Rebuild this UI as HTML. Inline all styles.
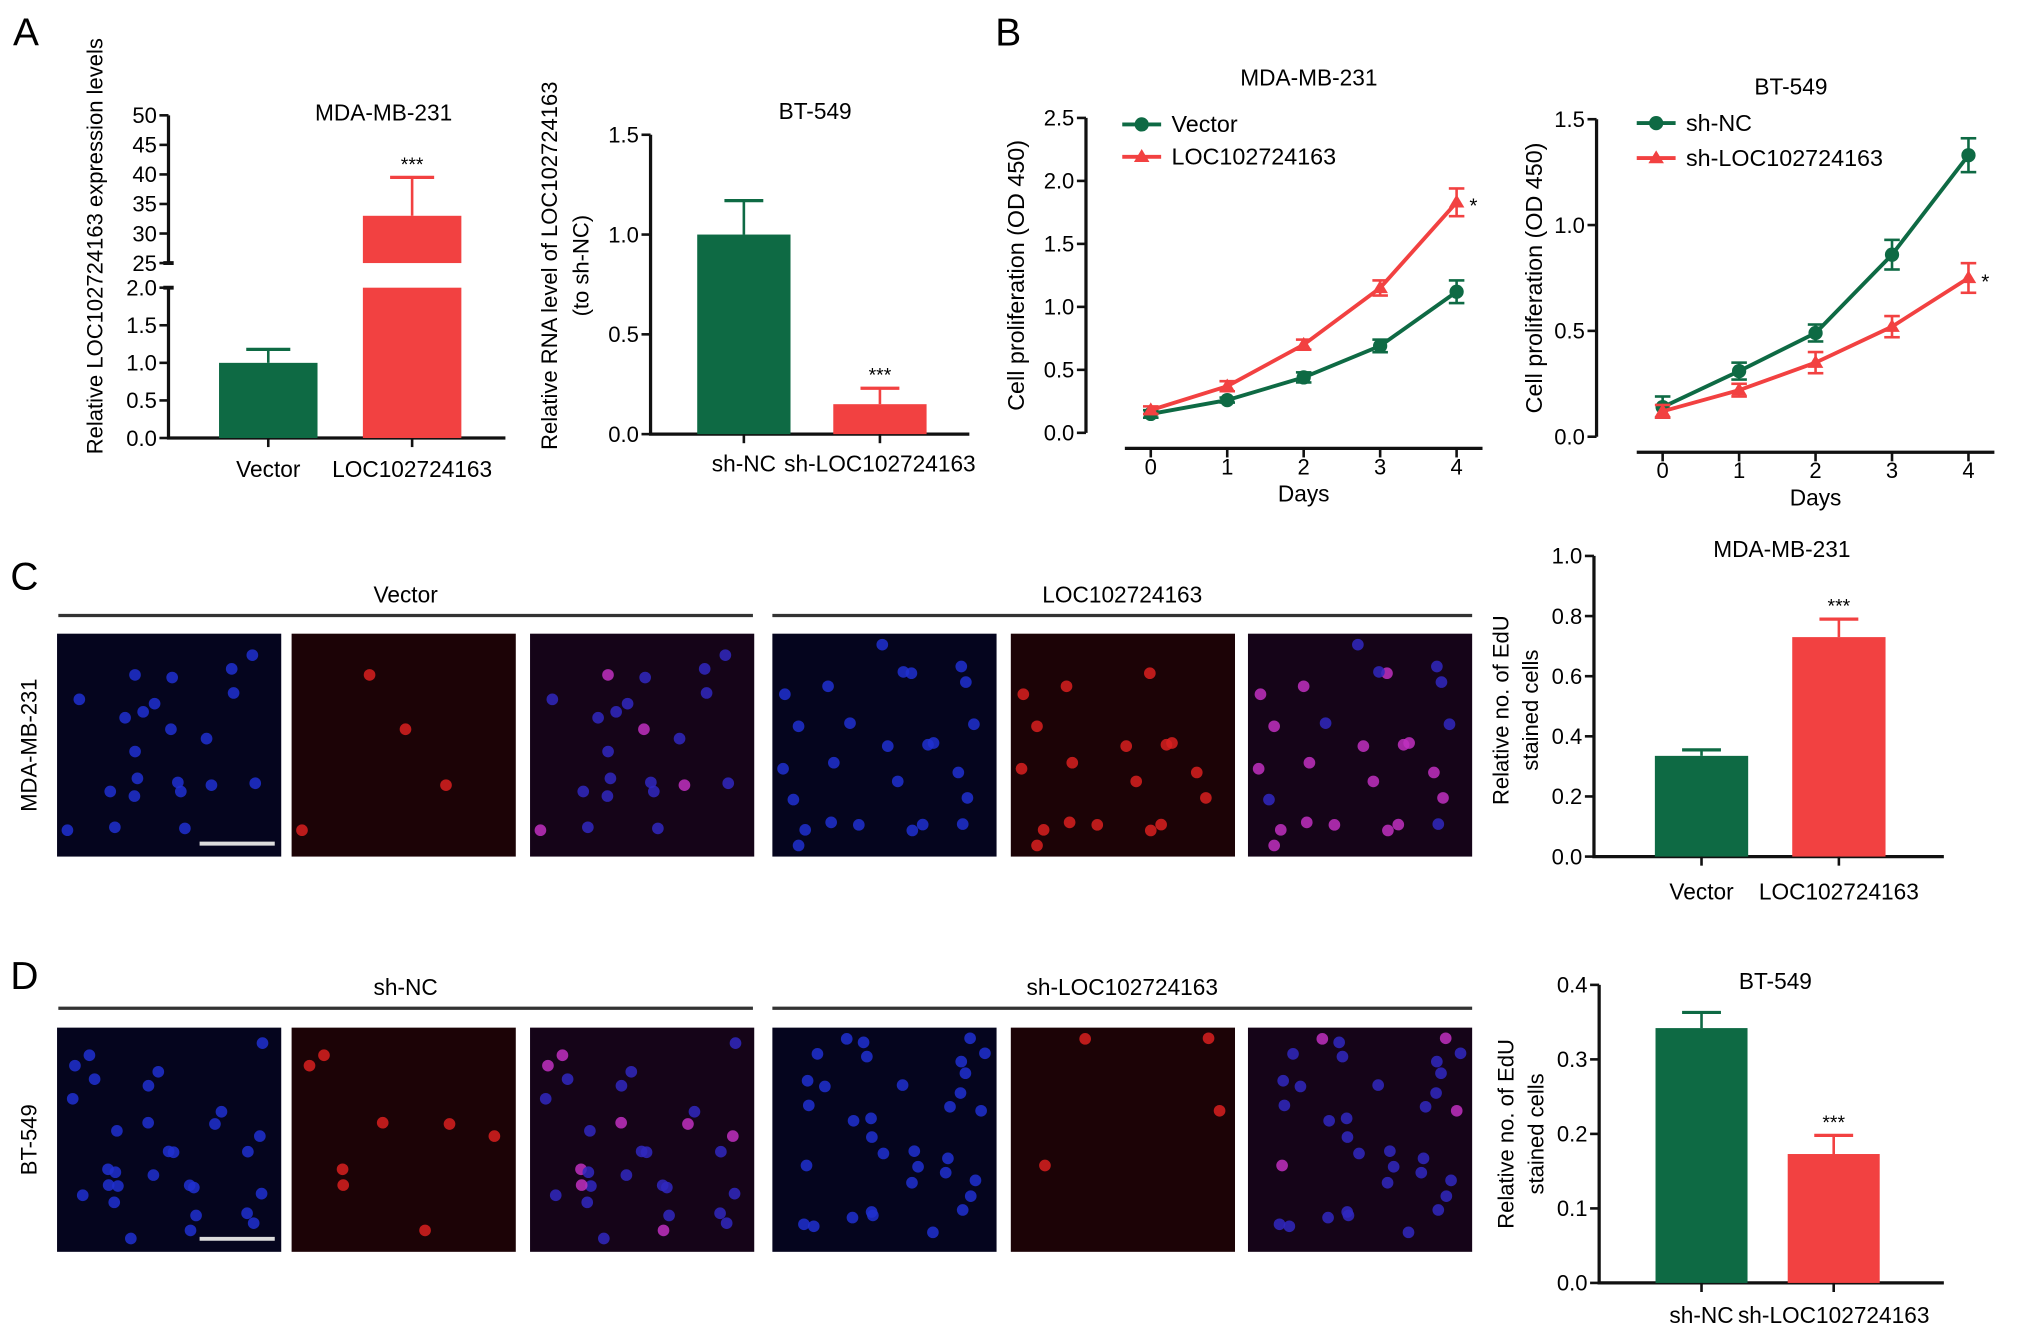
<!DOCTYPE html>
<html><head><meta charset="utf-8">
<style>
html,body{margin:0;padding:0;background:#fff;}
svg{display:block;font-family:"Liberation Sans",Arial,sans-serif;}
</style></head>
<body>
<svg id="fig" width="2032" height="1338" viewBox="0 0 1568 1032.5" xmlns="http://www.w3.org/2000/svg">
<text x="10" y="35" font-size="30">A</text>
<text x="768" y="35" font-size="30">B</text>
<text x="8" y="455" font-size="30">C</text>
<text x="8" y="763" font-size="30">D</text>
</svg>
<script>
// ---- data ----
const a1Cats = ["Vector","LOC102724163"];
const a1Vals = [1.0, 33];
const a1Errs = [0.18, 6.5];
const a1LowTicks = ["0.0","0.5","1.0","1.5","2.0"];
const a1HighTicks = ["25","30","35","40","45","50"];
const a2Cats = ["sh-NC","sh-LOC102724163"];
const a2Vals = [1.0, 0.15];
const a2Errs = [0.17, 0.08];
const a2Ticks = [0,0.5,1.0,1.5];
const days = [0,1,2,3,4];
const b1Vector = [0.15,0.26,0.44,0.69,1.12];
const b1VectorErr = [0.03,0.02,0.04,0.05,0.09];
const b1Loc = [0.18,0.37,0.70,1.15,1.83];
const b1LocErr = [0.03,0.04,0.04,0.06,0.11];
const b1Ticks = [0,0.5,1.0,1.5,2.0,2.5];
const b2NC = [0.14,0.31,0.49,0.86,1.33];
const b2NCErr = [0.05,0.04,0.04,0.07,0.08];
const b2Loc = [0.12,0.22,0.35,0.52,0.75];
const b2LocErr = [0.03,0.03,0.05,0.05,0.07];
const b2Ticks = [0,0.5,1.0,1.5];
const cCats = ["Vector","LOC102724163"];
const cVals = [0.335,0.73];
const cErrs = [0.02,0.06];
const cTicks = [0,0.2,0.4,0.6,0.8,1.0];
const dCats = ["sh-NC","sh-LOC102724163"];
const dVals = [0.342,0.173];
const dErrs = [0.021,0.025];
const dTicks = [0,0.1,0.2,0.3,0.4];

const G="#0e6a44", R="#f24141";
const svg=document.getElementById('fig');
const NS="http://www.w3.org/2000/svg";
function el(tag,attrs,parent){const e=document.createElementNS(NS,tag);for(const k in attrs)e.setAttribute(k,attrs[k]);(parent||svg).appendChild(e);return e;}
function txt(x,y,s,size,anchor,rot,parent){const t=el('text',{x:x,y:y,'font-size':size,'text-anchor':anchor||'middle'},parent);if(rot)t.setAttribute('transform','rotate(-90 '+x+' '+y+')');t.textContent=s;return t;}
function grp(name){const g=el('g',{});return g;}
function fmt(v,d){return v.toFixed(d);}

function barChart(o){
  const g=grp(o.name);
  const y=v=>o.y0-(v-o.vmin)/(o.vmax-o.vmin)*(o.y0-o.y1);
  const ax=el('path',{d:`M${o.ax} ${o.y1} V${o.y0} H${o.xEnd}`,stroke:'#111','stroke-width':2.5,fill:'none'},g);
  
  
  o.ticks.forEach(v=>{
    el('line',{x1:o.ax-7,x2:o.ax,y1:y(v),y2:y(v),stroke:'#111','stroke-width':2},g);
    const t=txt(o.ax-9,y(v)+6,fmt(v,1),17,'end',false,g);
    
    
  });
  o.cats.forEach((c,i)=>{
    const cx=o.xs[i], w=o.bw, col=i?R:G;
    const v=o.vals[i];
    const bar=el('rect',{x:cx-w/2,y:y(v),width:w,height:o.y0-y(v),fill:col},g);
    
    
    const e=y(v+o.errs[i]);
    el('line',{x1:cx,x2:cx,y1:y(v),y2:e,stroke:col,'stroke-width':2},g);
    el('line',{x1:cx-15,x2:cx+15,y1:e,y2:e,stroke:col,'stroke-width':2.5},g);
    el('line',{x1:cx,x2:cx,y1:o.y0,y2:o.y0+7,stroke:'#111','stroke-width':2},g);
    const l=txt(cx,o.y0+(o.labOff||27),c,17.5,'middle',false,g);
    
    
    if(o.star===i){const s=txt(cx,e-5,'***',15,'middle',false,g);}
  });
  const tt=txt(o.titleX,o.titleY,o.title,17.5,'middle',false,g);
  
  
  o.ylab.forEach((s,k)=>{const t=txt(o.ylabX[k],o.ylabY,s,17,'middle',true,g);});
  return g;
}

// Panel A1 (broken axis)
(function(){
  const g=grp('chart-a-mda-mb-231');
  const ax=130,y0=338,y1=222,h0=203,h1=89;
  const yl=v=>y0-v/2*(y0-y1);
  const yh=v=>h0-(v-25)/25*(h0-h1);
  el('path',{d:`M${ax} ${y1} V${y0} H390`,stroke:'#111','stroke-width':2.5,fill:'none'},g);
  el('line',{x1:ax,x2:ax,y1:h1,y2:h0,stroke:'#111','stroke-width':2.5},g);
  el('line',{x1:ax-4,x2:ax+4,y1:h0,y2:h0,stroke:'#111','stroke-width':3},g);
  el('line',{x1:ax-4,x2:ax+4,y1:y1,y2:y1,stroke:'#111','stroke-width':3},g);
  a1LowTicks.forEach(s=>{const v=parseFloat(s);el('line',{x1:ax-7,x2:ax,y1:yl(v),y2:yl(v),stroke:'#111','stroke-width':2},g);txt(ax-9,yl(v)+6,s,17,'end',false,g);});
  a1HighTicks.forEach(s=>{const v=parseFloat(s);el('line',{x1:ax-7,x2:ax,y1:yh(v),y2:yh(v),stroke:'#111','stroke-width':2},g);txt(ax-9,yh(v)+6,s,17,'end',false,g);});
  const xs=[207,318], w=76;
  let v=a1Vals[0];
  const b0=el('rect',{x:xs[0]-w/2,y:yl(v),width:w,height:y0-yl(v),fill:G},g);
  
  
  let e=yl(v+a1Errs[0]);
  el('line',{x1:xs[0],x2:xs[0],y1:yl(v),y2:e,stroke:G,'stroke-width':2},g);
  el('line',{x1:xs[0]-17,x2:xs[0]+17,y1:e,y2:e,stroke:G,'stroke-width':2.5},g);
  v=a1Vals[1];
  const b1=el('rect',{x:xs[1]-w/2,y:y1,width:w,height:y0-y1,fill:R},g);
  
  
  const b2=el('rect',{x:xs[1]-w/2,y:yh(v),width:w,height:h0-yh(v),fill:R},g);
  
  
  e=yh(v+a1Errs[1]);
  el('line',{x1:xs[1],x2:xs[1],y1:yh(v),y2:e,stroke:R,'stroke-width':2},g);
  el('line',{x1:xs[1]-17,x2:xs[1]+17,y1:e,y2:e,stroke:R,'stroke-width':2.5},g);
  txt(xs[1],e-5,'***',15,'middle',false,g);
  a1Cats.forEach((c,i)=>{el('line',{x1:xs[i],x2:xs[i],y1:y0,y2:y0+7,stroke:'#111','stroke-width':2},g);txt(xs[i],y0+30,c,17.5,'middle',false,g);});
  txt(296,93,'MDA-MB-231',17.5,'middle',false,g);
  const yt=txt(79,190,'Relative LOC102724163 expression levels',17,'middle',true,g);
  
  
})();

barChart({name:'chart-a-bt-549',ax:502,y0:335,y1:104,vmin:0,vmax:1.5,xEnd:748,ticks:a2Ticks,cats:a2Cats,vals:a2Vals,errs:a2Errs,xs:[574,679],bw:72,star:1,title:'BT-549',titleX:629,titleY:92,ylab:['Relative RNA level of LOC102724163','(to sh-NC)'],ylabX:[430,454],ylabY:205,labOff:29});
barChart({name:'chart-c-edu',ax:1230,y0:661,y1:429,vmin:0,vmax:1.0,xEnd:1500,ticks:cTicks,cats:cCats,vals:cVals,errs:cErrs,xs:[1313,1419],bw:72,star:1,title:'MDA-MB-231',titleX:1375,titleY:430,ylab:['Relative no. of EdU','stained cells'],ylabX:[1164,1187],ylabY:548,labOff:33});
barChart({name:'chart-d-edu',ax:1234,y0:990,y1:760,vmin:0,vmax:0.4,xEnd:1500,ticks:dTicks,cats:dCats,vals:dVals,errs:dErrs,xs:[1313,1415],bw:71,star:1,title:'BT-549',titleX:1370,titleY:763,ylab:['Relative no. of EdU','stained cells'],ylabX:[1168,1191],ylabY:875,labOff:31});

function lineChart(o){
  const g=grp(o.name);
  const y=v=>o.y0-v/o.vmax*(o.y0-o.y1);
  const x=d=>o.x0+d*o.dx;
  el('line',{x1:o.ax,x2:o.ax,y1:o.y1,y2:o.y0,stroke:'#111','stroke-width':2.5},g);
  el('line',{x1:x(0)-20,x2:x(4)+20,y1:o.y0+12,y2:o.y0+12,stroke:'#111','stroke-width':2.5},g);
  o.ticks.forEach(v=>{el('line',{x1:o.ax-7,x2:o.ax,y1:y(v),y2:y(v),stroke:'#111','stroke-width':2},g);txt(o.ax-9,y(v)+6,fmt(v,1),17,'end',false,g);});
  days.forEach(d=>{el('line',{x1:x(d),x2:x(d),y1:o.y0+12,y2:o.y0+19,stroke:'#111','stroke-width':2},g);txt(x(d),o.y0+32,String(d),17,'middle',false,g);});
  txt((x(0)+x(4))/2,o.y0+53,'Days',17.5,'middle',false,g);
  o.series.forEach((s,si)=>{
    const col=si?R:G;
    const p=el('polyline',{points:days.map((d,i)=>x(d)+','+y(s.v[i])).join(' '),fill:'none',stroke:col,'stroke-width':3},g);
    
    
    days.forEach((d,i)=>{
      const cx=x(d),v=s.v[i],e=s.e[i];
      el('line',{x1:cx,x2:cx,y1:y(v-e),y2:y(v+e),stroke:col,'stroke-width':2},g);
      el('line',{x1:cx-6,x2:cx+6,y1:y(v+e),y2:y(v+e),stroke:col,'stroke-width':2},g);
      el('line',{x1:cx-6,x2:cx+6,y1:y(v-e),y2:y(v-e),stroke:col,'stroke-width':2},g);
      let m;
      if(si) m=el('path',{d:`M${cx-6} ${y(v)+4} L${cx+6} ${y(v)+4} L${cx} ${y(v)-6} Z`,fill:col},g);
      else m=el('circle',{cx:cx,cy:y(v),r:5.5,fill:col},g);
      
      
    });
    const ly=o.legY[si];
    const lg=el('g',{},g);
    
    
    el('line',{x1:o.legX,x2:o.legX+30,y1:ly,y2:ly,stroke:col,'stroke-width':3},lg);
    if(si) el('path',{d:`M${o.legX+9} ${ly+4} L${o.legX+21} ${ly+4} L${o.legX+15} ${ly-6} Z`,fill:col},lg);
    else el('circle',{cx:o.legX+15,cy:ly,r:5.5,fill:col},lg);
    txt(o.legX+38,ly+6,s.label,18,'start',false,lg);
  });
  const last=o.series[1];
  txt(x(4)+13,y(last.v[4])+8,'*',16,'middle',false,g);
  txt(o.titleX,o.titleY,o.title,17.5,'middle',false,g);
  const yt=txt(o.ylabX,(o.y0+o.y1)/2,'Cell proliferation (OD 450)',18,'middle',true,g);
  
  
}
lineChart({name:'chart-b-mda-mb-231',ax:838,y0:334,y1:91,vmax:2.5,x0:888,dx:59,ticks:b1Ticks,
  series:[{key:'vector',label:'Vector',v:b1Vector,e:b1VectorErr},{key:'loc102724163',label:'LOC102724163',v:b1Loc,e:b1LocErr}],
  legX:866,legY:[96,121],title:'MDA-MB-231',titleX:1010,titleY:66,ylabX:790});
lineChart({name:'chart-b-bt-549',ax:1232,y0:337,y1:92,vmax:1.5,x0:1283,dx:59,ticks:b2Ticks,
  series:[{key:'sh-nc',label:'sh-NC',v:b2NC,e:b2NCErr},{key:'sh-loc102724163',label:'sh-LOC102724163',v:b2Loc,e:b2LocErr}],
  legX:1263,legY:[95,122],title:'BT-549',titleX:1382,titleY:73,ylabX:1190});

let seed=7;function rnd(){seed=(seed*16807)%2147483647;return seed/2147483647;}
const imgX=[44,225,409,596,780,963], imgW=173;
function imgRow(name,y,h,counts,cellLabel){
  const g=grp(name);
  const cells=[[],[]];
  for(let side=0;side<2;side++){for(let k=0;k<counts[side];k++)cells[side].push([8+rnd()*(imgW-16),8+rnd()*(h-16),rnd()]);}
  imgX.forEach((x0,i)=>{
    const side=i<3?0:1, ch=i%3;
    const bg=['#05051e','#1c0306','#150418'][ch];
    const r=el('rect',{x:x0,y:y,width:imgW,height:h,fill:bg},g);
    
    
    cells[side].forEach(c=>{
      const red=c[2]<(side?0.7:0.3)*(name.includes('bt')&&side?0.15/0.7:1);
      let col;
      if(ch===0)col='#2030d0';else if(ch===1)col=red?'#d82020':null;else col=red?'#c030c0':'#3028c0';
      if(col)el('circle',{cx:x0+c[0],cy:y+c[1],r:4.5,fill:col,opacity:0.85},g);
    });
  });
  el('line',{x1:154,x2:212,y1:y+h-10,y2:y+h-10,stroke:'#ddd','stroke-width':3},g);
  const s=txt(28,y+h/2,cellLabel,17,'middle',true,g);
  
  
}
imgRow('micrographs-mda-mb-231',489,172,[22,26],'MDA-MB-231');
imgRow('micrographs-bt-549',793,173,[30,34],'BT-549');
function header(x1,x2,y,label){
  const g=grp('group-header');
  el('line',{x1:x1,x2:x2,y1:y,y2:y,stroke:'#333','stroke-width':2.5},g);
  txt((x1+x2)/2,y-10,label,17.5,'middle',false,g);
}
header(45,581,475,'Vector');header(596,1136,475,'LOC102724163');
header(45,581,778,'sh-NC');header(596,1136,778,'sh-LOC102724163');
</script>
</body></html>
